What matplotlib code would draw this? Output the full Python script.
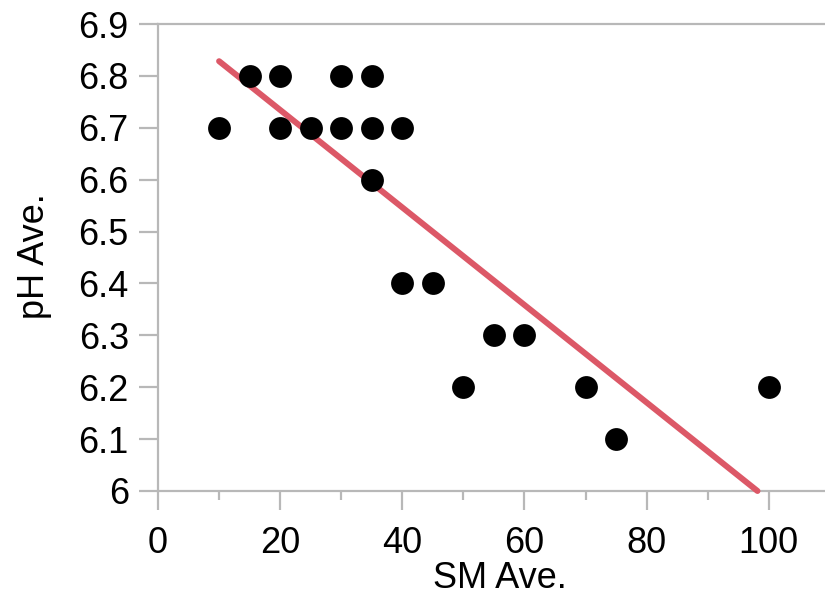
import numpy as np
import matplotlib
matplotlib.use("Agg")
import matplotlib.pyplot as plt
from matplotlib.ticker import MultipleLocator, FuncFormatter

sm_ave = [10, 15, 20, 20, 25, 30, 30, 35, 35, 35, 40, 40, 45, 50, 55, 60, 70, 75, 100]
ph_ave = [6.7, 6.8, 6.8, 6.7, 6.7, 6.8, 6.7, 6.8, 6.7, 6.6, 6.7, 6.4, 6.4, 6.2, 6.3, 6.3, 6.2, 6.1, 6.2]
x_ticks = [0, 20, 40, 60, 80, 100]
y_ticks = [6.0, 6.1, 6.2, 6.3, 6.4, 6.5, 6.6, 6.7, 6.8, 6.9]

plt.rcParams['font.family'] = ['Liberation Sans', 'DejaVu Sans']

fig = plt.figure(figsize=(8.25, 6.03), dpi=100)
ax = fig.add_axes([158/825, 1-491/603, 1-158/825, (491-24)/603])

grey = '#b8b8b8'
ax.set_xlim(0, 109.2)
ax.set_ylim(6.0, 6.9)

# regression line
slope, intercept = np.polyfit(sm_ave, ph_ave, 1)
x0 = min(sm_ave)
x1 = (6.0 - intercept) / slope
xs = np.array([x0, x1])
ax.plot(xs, slope*xs + intercept, color='#dc5867', lw=4.3, solid_capstyle='round', zorder=3, clip_on=False)

ax.scatter(sm_ave, ph_ave, s=270, color='black', zorder=4, linewidths=0)

ax.spines['right'].set_visible(False)
for side in ['left', 'bottom', 'top']:
    ax.spines[side].set_color(grey)
    ax.spines[side].set_linewidth(1.6)

ax.set_xticks(x_ticks)
ax.xaxis.set_minor_locator(MultipleLocator(10))
ax.set_yticks(y_ticks)
ax.yaxis.set_major_formatter(FuncFormatter(lambda v, p: f"{v:g}"))
ax.tick_params(axis='both', which='major', color=grey, width=1.6, length=14, labelsize=26)
ax.tick_params(axis='x', which='major', pad=11)
ax.tick_params(axis='y', which='major', pad=7)
ax.tick_params(axis='x', which='minor', color=grey, width=1.6, length=6.5)

ax.set_xlabel('SM Ave.', fontsize=26)
ax.set_ylabel('pH Ave.', fontsize=26)
ax.xaxis.set_label_coords((500-158)/667, (491-578)/467)
ax.yaxis.set_label_coords((34-158)/667, (491-256)/467)
ax.xaxis.label.set_va('center')
ax.yaxis.label.set_va('center')

fig.savefig('out.png', dpi=100)
